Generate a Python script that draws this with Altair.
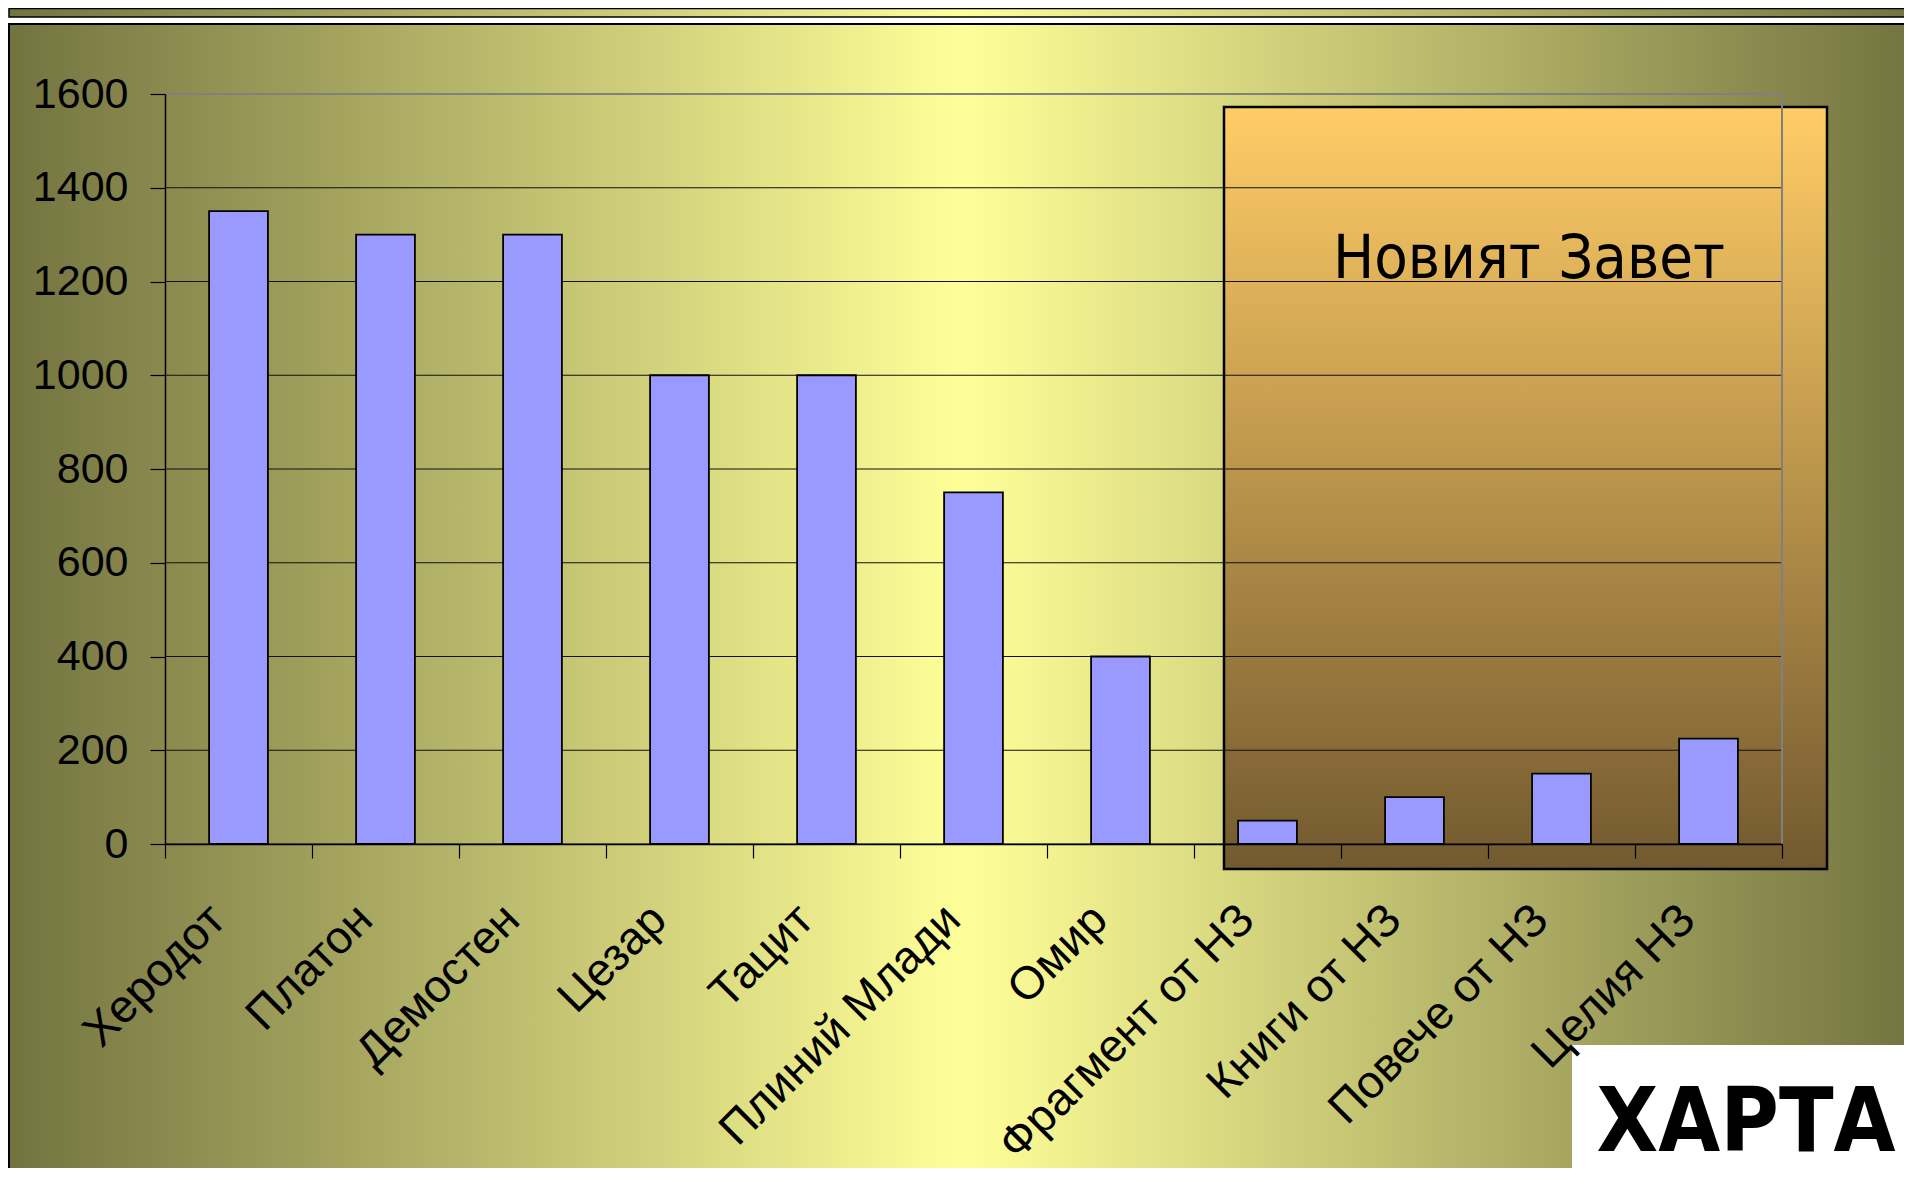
import altair as alt
import pandas as pd

# ---- data ----
categories = ["Херодот", "Платон", "Демостен", "Цезар", "Тацит", "Плиний Млади",
              "Омир", "Фрагмент от НЗ", "Книги от НЗ", "Повече от НЗ", "Целия НЗ"]
values = [1350, 1300, 1300, 1000, 1000, 750, 400, 50, 100, 150, 225]
y_ticks = [0, 200, 400, 600, 800, 1000, 1200, 1400, 1600]
box_title = "Новият Завет"
stamp = "ХАРТА"

W, H = 1617, 750

bars_df = pd.DataFrame({"cat": categories, "val": values})
grid_df = pd.DataFrame({"v": y_ticks})
one = pd.DataFrame({"k": [0]})

y_scale = alt.Scale(domain=[0, 1600], nice=False)
y_axis = alt.Axis(values=y_ticks, format="d", title=None, grid=False, zindex=1,
                  labelFont="Liberation Sans", labelFontSize=43, labelColor="black",
                  labelPadding=22, tickSize=15, tickColor="black", tickWidth=1.2,
                  domainColor="black", domainWidth=1.5)
x_axis = alt.Axis(title=None, grid=False, zindex=1, labelAngle=-45,
                  labelAlign="right", labelBaseline="middle",
                  labelFont="Liberation Sans", labelFontSize=46, labelColor="black",
                  labelPadding=54, labelOffset=-21, labelLimit=2000, labelOverlap=False,
                  tickBand="extent", tickSize=14, tickColor="black", tickWidth=1.2,
                  domainColor="black", domainWidth=1.5)

olive = alt.Gradient(gradient="linear", x1=0, x2=1, y1=0, y2=0,
                     stops=[alt.GradientStop(color="#737340", offset=0),
                            alt.GradientStop(color="#FFFF99", offset=0.5),
                            alt.GradientStop(color="#737340", offset=1)])
orange = alt.Gradient(gradient="linear", x1=0, x2=0, y1=0, y2=1,
                      stops=[alt.GradientStop(color="#FFCC66", offset=0),
                             alt.GradientStop(color="#72592F", offset=1)])

panel = alt.Chart(one).mark_rect(fill=olive, stroke="black", strokeWidth=2).encode(
    x=alt.value(-156), x2=alt.value(1750), y=alt.value(-70), y2=alt.value(1100))
stripe = alt.Chart(one).mark_rect(fill=olive, stroke="black", strokeWidth=1.5).encode(
    x=alt.value(-156), x2=alt.value(1750), y=alt.value(-85.5), y2=alt.value(-77))
nt_box = alt.Chart(one).mark_rect(fill=orange, stroke="black", strokeWidth=2.5).encode(
    x=alt.value(1059), x2=alt.value(1662), y=alt.value(13), y2=alt.value(775))

grid = alt.Chart(grid_df).mark_rule().encode(
    y=alt.Y("v:Q", scale=y_scale, axis=y_axis),
    color=alt.condition(alt.datum.v == 1600, alt.value("#808080"), alt.value("#111111")),
    strokeWidth=alt.condition(alt.datum.v == 1600, alt.value(2), alt.value(1.2)))
right_border = alt.Chart(one).mark_rule(color="#808080", strokeWidth=2).encode(
    x=alt.value(W), y=alt.value(0), y2=alt.value(H))

nt_text = alt.Chart(one).mark_text(
    text=box_title, font="DejaVu Sans Condensed", fontSize=61, align="center",
    baseline="alphabetic", color="black").encode(x=alt.value(1364), y=alt.value(184))

bars = alt.Chart(bars_df).mark_bar(
    width=alt.RelativeBandSize(0.4), fill="#9999FF", stroke="black", strokeWidth=1.8
).encode(
    x=alt.X("cat:N", sort=categories, axis=x_axis,
            scale=alt.Scale(paddingInner=0, paddingOuter=0)),
    y=alt.Y("val:Q", scale=y_scale, axis=y_axis))

stamp_box = alt.Chart(one).mark_rect(fill="white").encode(
    x=alt.value(1407), x2=alt.value(1750), y=alt.value(951), y2=alt.value(1100))
stamp_text = alt.Chart(one).mark_text(
    text=stamp, font="DejaVu Sans Condensed",
    fontWeight="bold", fontSize=89,
    align="center", baseline="alphabetic", color="black").encode(
    x=alt.value(1581), y=alt.value(1057))

chart = alt.layer(panel, stripe, nt_box, grid, right_border, nt_text, bars,
                  stamp_box, stamp_text).properties(
    width=W, height=H,
    autosize=alt.AutoSizeParams(type="none"),
    padding={"left": 157, "top": 86, "right": 122, "bottom": 324},
    background="white",
).configure_view(stroke=None)

chart.save("out.html", embed_options={"renderer": "svg", "actions": False})
